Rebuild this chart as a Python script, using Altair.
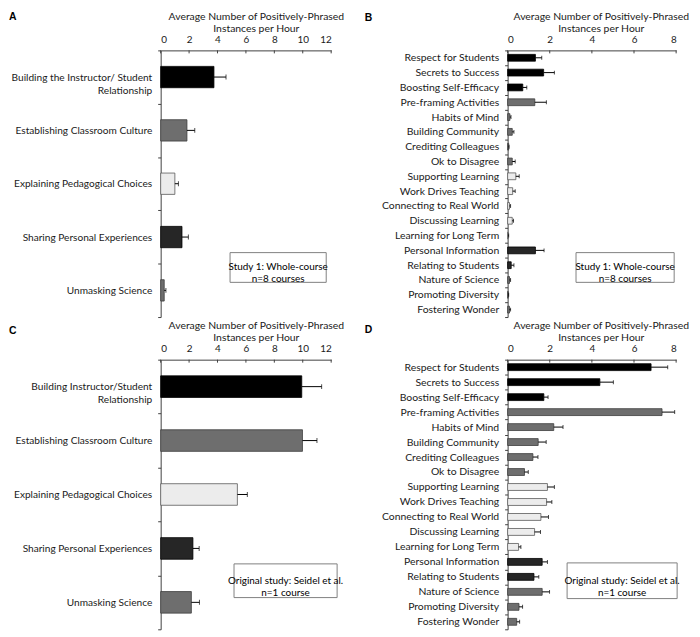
import altair as alt
import pandas as pd

FONT = "Lato"
TITLE = ["Average Number of Positively-Phrased", "Instances per Hour"]

GROUPS = ["Building", "Establishing", "Explaining", "Sharing", "Unmasking"]
FILLS = ["#000000", "#6e6e6e", "#ececec", "#262626", "#6e6e6e"]
STROKES = ["#000000", "#3c3c3c", "#5a5a5a", "#000000", "#3c3c3c"]

# Panel A (Study 1, whole course)
cats_a = ["Building the Instructor/ Student|Relationship", "Establishing Classroom Culture",
          "Explaining Pedagogical Choices", "Sharing Personal Experiences", "Unmasking Science"]
vals_a = [3.75, 1.85, 1.0, 1.5, 0.25]
errs_a = [0.85, 0.55, 0.25, 0.45, 0.12]
groups_a = ["Building", "Establishing", "Explaining", "Sharing", "Unmasking"]

# Panel C (original study)
cats_c = ["Building Instructor/Student|Relationship", "Establishing Classroom Culture",
          "Explaining Pedagogical Choices", "Sharing Personal Experiences", "Unmasking Science"]
vals_c = [9.93, 9.98, 5.4, 2.27, 2.16]
errs_c = [1.4, 1.02, 0.7, 0.44, 0.57]
groups_c = ["Building", "Establishing", "Explaining", "Sharing", "Unmasking"]

# Panels B and D (sub-categories)
cats_bd = ["Respect for Students", "Secrets to Success", "Boosting Self-Efficacy",
           "Pre-framing Activities", "Habits of Mind", "Building Community",
           "Crediting Colleagues", "Ok to Disagree", "Supporting Learning",
           "Work Drives Teaching", "Connecting to Real World", "Discussing Learning",
           "Learning for Long Term", "Personal Information", "Relating to Students",
           "Nature of Science", "Promoting Diversity", "Fostering Wonder"]
groups_bd = ["Building", "Building", "Building",
             "Establishing", "Establishing", "Establishing", "Establishing", "Establishing",
             "Explaining", "Explaining", "Explaining", "Explaining", "Explaining",
             "Sharing", "Sharing",
             "Unmasking", "Unmasking", "Unmasking"]
vals_b = [1.32, 1.71, 0.72, 1.29, 0.11, 0.22, 0.05, 0.22, 0.39, 0.24, 0.09, 0.22, 0.03,
          1.32, 0.17, 0.09, 0.03, 0.09]
errs_b = [0.30, 0.51, 0.19, 0.55, 0.05, 0.08, 0.02, 0.14, 0.16, 0.12, 0.05, 0.06, 0.02,
          0.41, 0.13, 0.05, 0.02, 0.05]
vals_d = [6.81, 4.38, 1.72, 7.33, 2.19, 1.45, 1.20, 0.80, 1.89, 1.85, 1.58, 1.28, 0.52,
          1.64, 1.25, 1.64, 0.54, 0.43]
errs_d = [0.79, 0.64, 0.20, 0.60, 0.44, 0.38, 0.24, 0.18, 0.33, 0.25, 0.36, 0.28, 0.11,
          0.25, 0.23, 0.35, 0.17, 0.14]

ticks_12 = [0, 2, 4, 6, 8, 10, 12]
ticks_8 = [0, 2, 4, 6, 8]

box_study1 = "Study 1: Whole-course\nn=8 courses"
box_orig = "Original study: Seidel et al.\nn=1 course"


def panel(letter, cats, vals, errs, groups, ticks, w, h, frac, cap, label_size,
          box_text, box, letter_xy, title_dx):
    df = pd.DataFrame({"c": cats, "v": vals,
                       "e": [a + b for a, b in zip(vals, errs)], "g": groups})
    tdf = pd.DataFrame({"v": ticks})
    xscale = alt.Scale(domain=[ticks[0], ticks[-1]], nice=False)
    xaxis = alt.Axis(orient="top", title=TITLE, values=ticks, ticks=False, grid=False,
                     labelFontSize=10, labelPadding=6, titleFontSize=10.5,
                     titleFontWeight="normal", titleLineHeight=12.5, titlePadding=1,
                     titleX=w / 2 + title_dx, titleAnchor="middle", titleAlign="center")
    yscale = alt.Scale(paddingInner=0, paddingOuter=0)
    yaxis = alt.Axis(title=None, tickBand="extent", labelExpr="split(datum.label, '|')",
                     labelFontSize=label_size, labelLineHeight=13.5, tickSize=3,
                     labelPadding=6, labelLimit=300)
    X = lambda f: alt.X(f, scale=xscale, axis=xaxis)
    Y = alt.Y("c:N", sort=cats, scale=yscale, axis=yaxis)
    base = alt.Chart(df)
    bars = base.mark_bar(height=alt.RelativeBandSize(frac), strokeWidth=0.8).encode(
        x=X("v:Q"), y=Y,
        fill=alt.Fill("g:N", scale=alt.Scale(domain=GROUPS, range=FILLS), legend=None),
        stroke=alt.Stroke("g:N", scale=alt.Scale(domain=GROUPS, range=STROKES), legend=None),
    )
    err = base.mark_rule(color="#000000", strokeWidth=1).encode(x=X("v:Q"), x2="e:Q", y=Y)
    caps = base.mark_tick(color="#000000", thickness=1, size=cap, orient="vertical").encode(
        x=X("e:Q"), y=Y)
    xt = alt.Chart(tdf).mark_rule(color="#404040").encode(
        x=X("v:Q"), y=alt.value(0), y2=alt.value(3))
    one = pd.DataFrame({"d": [0]})
    bx0, bx1, by0, by1 = box
    boxr = alt.Chart(one).mark_rect(fill="#ffffff", stroke="#808080", strokeWidth=1).encode(
        x=alt.value(bx0), x2=alt.value(bx1), y=alt.value(by0), y2=alt.value(by1))
    boxt = alt.Chart(one).mark_text(text=box_text, lineBreak="\n", font=FONT, fontSize=10,
                                    lineHeight=12, align="center", baseline="middle",
                                    color="#000000").encode(
        x=alt.value((bx0 + bx1) / 2), y=alt.value((by0 + by1) / 2))
    let = alt.Chart(one).mark_text(text=letter, font="Liberation Sans", fontWeight="bold",
                                   fontSize=10.5, align="left", baseline="middle",
                                   color="#000000").encode(
        x=alt.value(letter_xy[0]), y=alt.value(letter_xy[1]))
    return alt.layer(bars, err, caps, xt, boxr, boxt, let).properties(width=w, height=h)


W1, W2 = 172, 170
H1, H2 = 269, 272
pa = panel("A", cats_a, vals_a, errs_a, groups_a, ticks_12, W1, H1, 0.40, 5, 10.2,
           box_study1, (70, 167, 204, 234), (-153, -34), 10)
pb = panel("B", cats_bd, vals_b, errs_b, groups_bd, ticks_8, W2, H1, 0.46, 4, 10.5,
           box_study1, (69, 168, 204, 234), (-144, -33), 9)
pc = panel("C", cats_c, vals_c, errs_c, groups_c, ticks_12, W1, H2, 0.40, 5, 10.2,
           box_orig, (74, 178, 206, 240), (-153, -29), 10)
pd_ = panel("D", cats_bd, vals_d, errs_d, groups_bd, ticks_8, W2, H2, 0.46, 4, 10.5,
            box_orig, (60, 171, 205, 241), (-144, -30), 9)

chart = alt.concat(pa, pb, pc, pd_, columns=2, spacing={"row": 43, "column": 178},
                   bounds="flush").properties(
    autosize=alt.AutoSizeParams(type="none"),
    padding={"left": 154, "top": 40, "right": 536, "bottom": 589}
).configure_view(stroke=None).configure_axis(
    labelFont=FONT, titleFont=FONT, labelColor="#1a1a1a", titleColor="#1a1a1a",
    domainColor="#404040", tickColor="#404040", domainWidth=1
)

chart.save("out.html", embed_options={"renderer": "svg", "actions": False})
